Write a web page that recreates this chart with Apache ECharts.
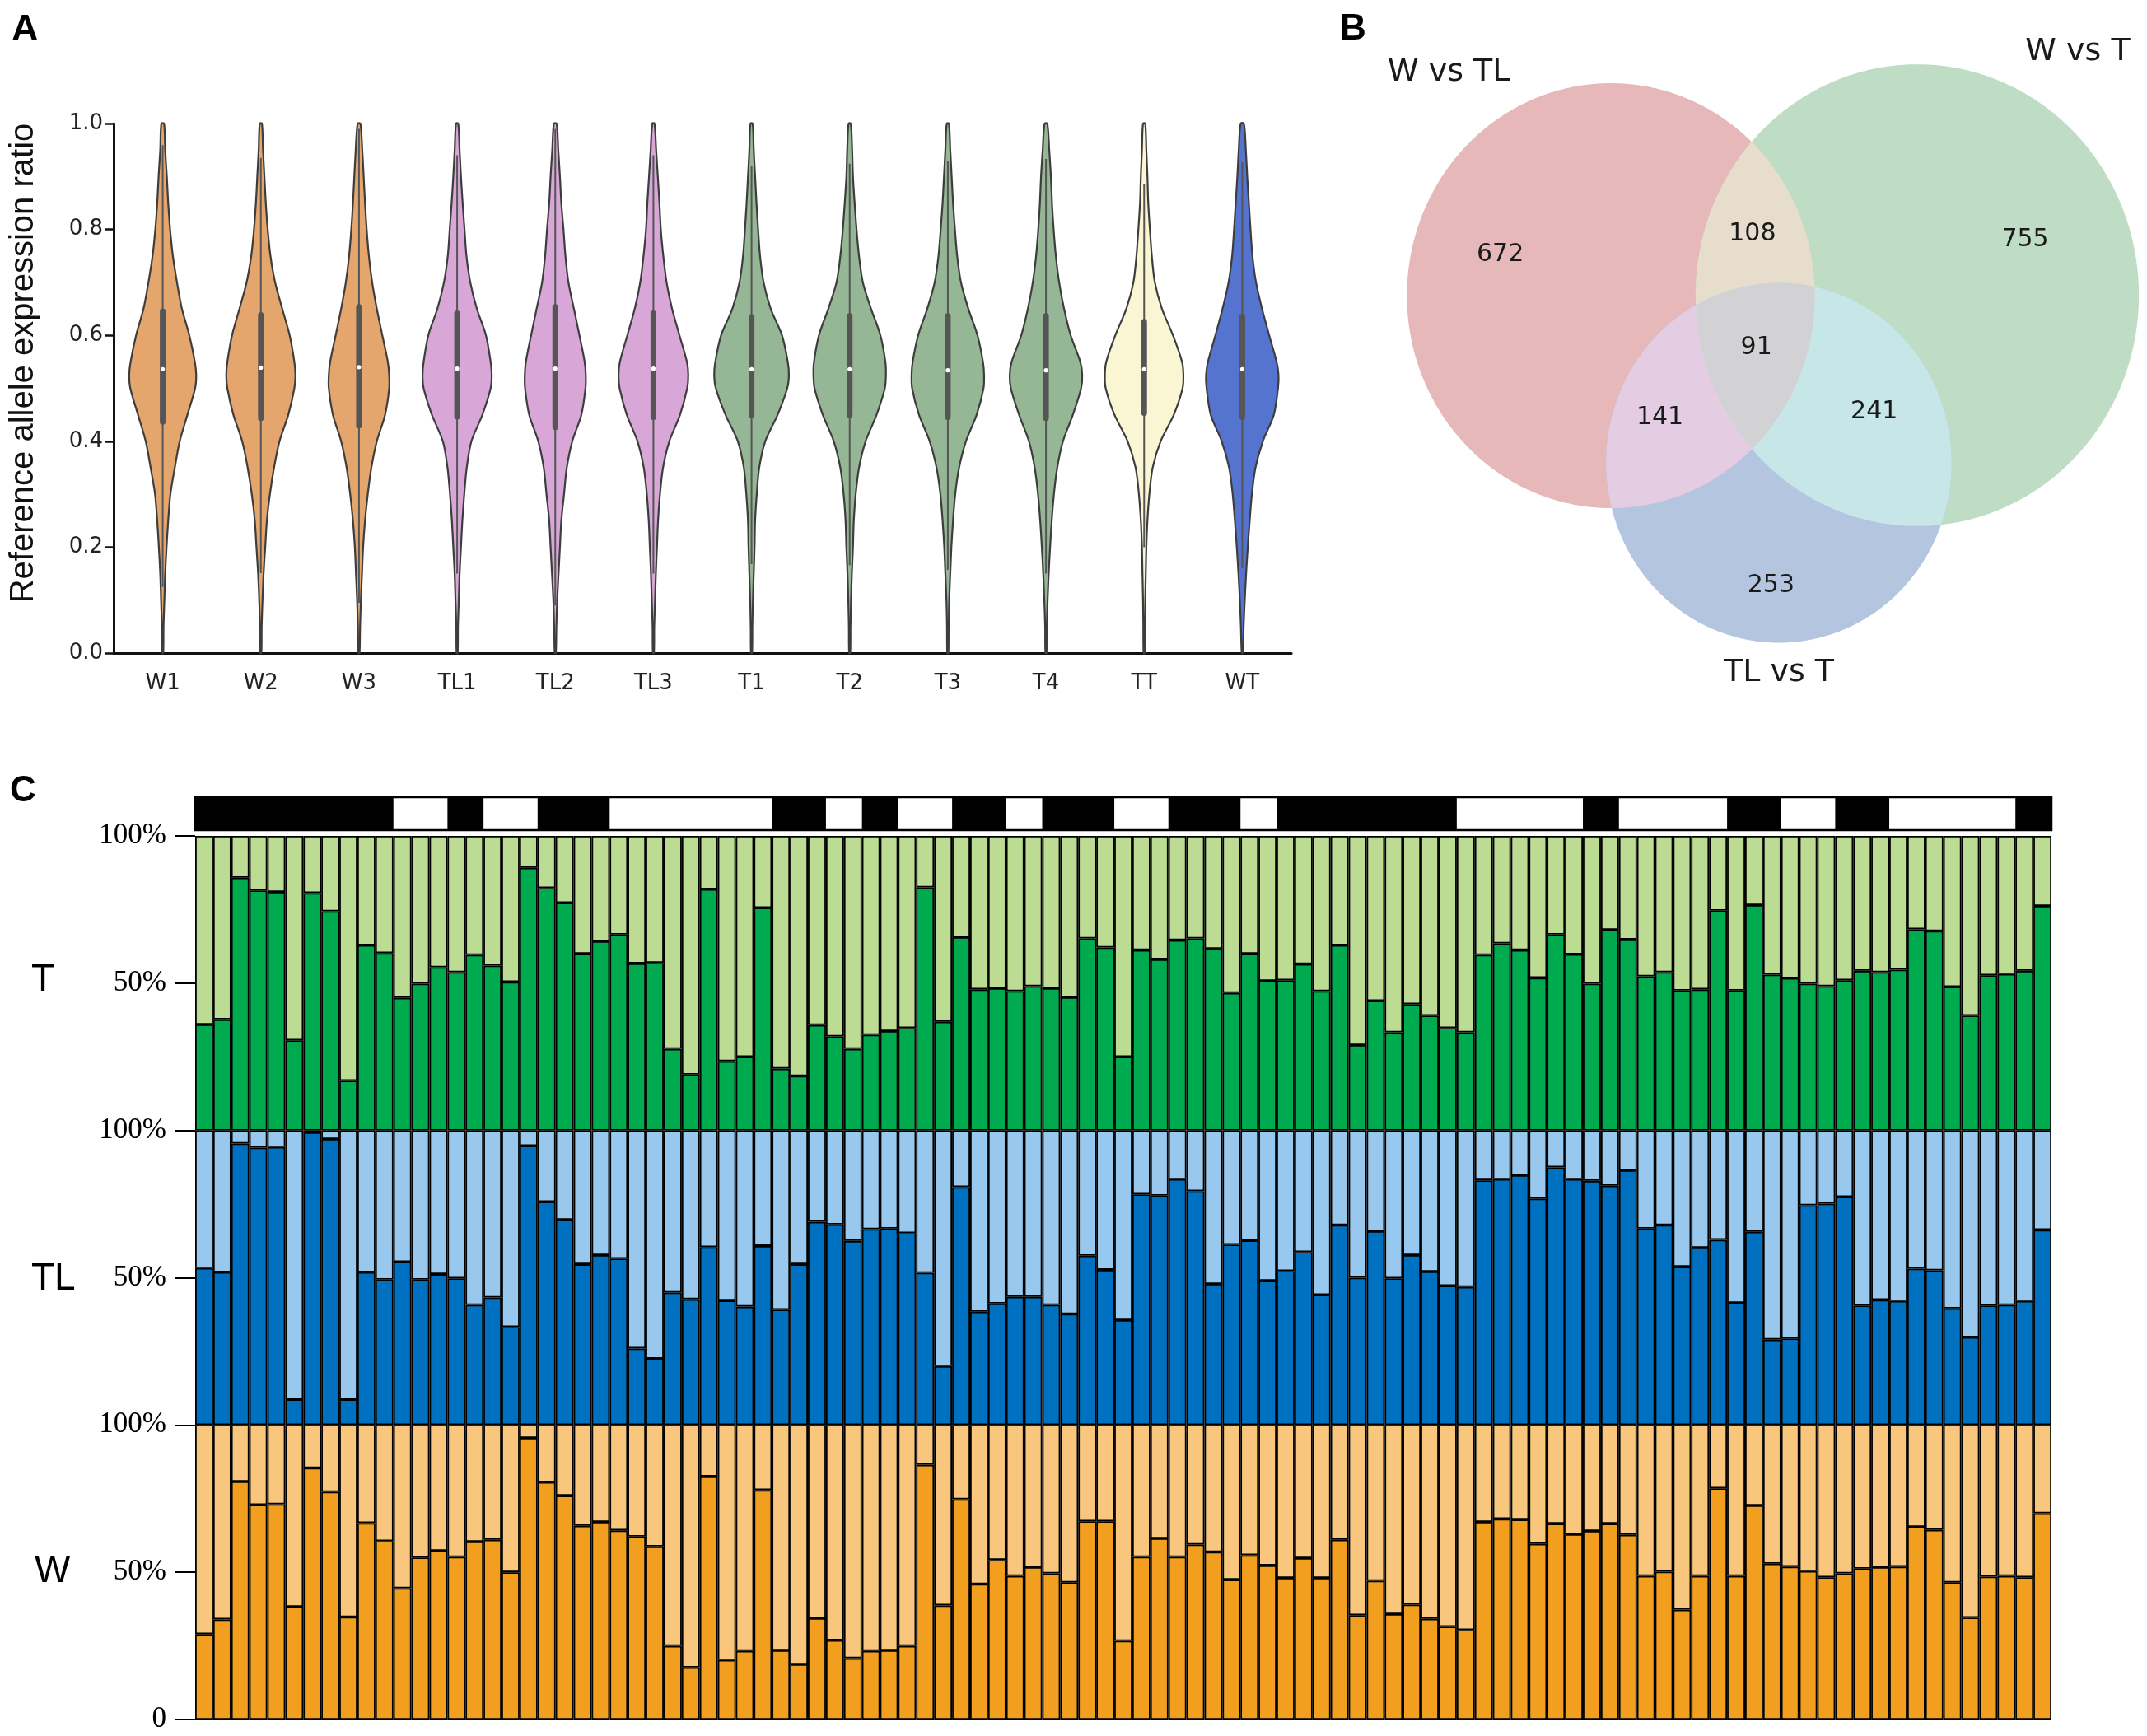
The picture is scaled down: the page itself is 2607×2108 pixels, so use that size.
<!DOCTYPE html>
<html><head><meta charset="utf-8">
<script src="https://cdn.jsdelivr.net/npm/echarts@6/dist/echarts.min.js"></script>
<style>html,body{margin:0;padding:0;background:#fff}#c{width:2607px;height:2108px}</style>
</head><body><div id="c"></div><script>
// ---------------- DATA ----------------
// Panel A: violins
const violinNames = ['W1','W2','W3','TL1','TL2','TL3','T1','T2','T3','T4','TT','WT'];
const violinLevels = [0,0.05,0.1,0.15,0.2,0.25,0.3,0.35,0.4,0.45,0.5,0.525,0.55,0.6,0.65,0.7,0.75,0.8,0.85,0.9,0.95,1];
const densW1  = [2,3,6,9,14,20,28,44,62,90,118,122,117,97,70,52,37,27,20,15,9,5];
const densW2  = [2,3,6,10,16,22,33,48,68,100,122,126,122,105,78,52,35,25,18,13,8,4];
const densW3  = [2,4,7,11,15,22,32,45,65,95,110,110,105,85,65,48,36,28,22,17,12,5];
const densTL1 = [2,3,6,9,14,19,26,35,52,92,122,126,122,105,72,48,34,27,20,14,9,4];
const densTL2 = [2,4,7,12,17,22,32,42,62,95,110,111,107,88,68,48,37,30,22,17,11,5];
const densTL3 = [2,3,6,9,13,17,24,35,58,97,123,127,122,95,68,48,36,27,22,16,10,4];
const densT1  = [2,3,5,8,11,13,19,28,50,95,130,136,132,111,70,44,31,24,18,13,8,4];
const densT2  = [2,3,5,8,12,15,22,34,58,98,128,132,130,112,78,48,34,25,18,12,9,4];
const densT3  = [2,3,5,9,13,19,27,41,66,105,130,132,128,108,75,48,34,26,19,14,9,4];
const densT4  = [2,3,6,10,15,21,29,41,62,98,128,132,125,90,66,48,36,28,22,18,12,5];
const densTT  = [2,3,4,6,8,12,19,31,60,108,140,143,138,105,65,39,28,21,15,12,8,4];
const densWT  = [2,5,9,14,20,27,35,48,75,115,130,132,125,98,72,50,37,30,24,18,13,6];
const violinDensities = [densW1,densW2,densW3,densTL1,densTL2,densTL3,densT1,densT2,densT3,densT4,densTT,densWT];
const violinQ1     = [0.431,0.438,0.424,0.441,0.421,0.440,0.444,0.444,0.440,0.438,0.448,0.440];
const violinMedian = [0.536,0.539,0.540,0.537,0.537,0.537,0.536,0.536,0.534,0.534,0.536,0.536];
const violinQ3     = [0.651,0.644,0.659,0.647,0.659,0.647,0.640,0.642,0.642,0.642,0.631,0.641];
const whiskerLow   = [0.125,0.151,0.095,0.150,0.090,0.150,0.168,0.166,0.157,0.150,0.200,0.160];
const whiskerHigh  = [0.959,0.935,0.990,0.940,0.990,0.940,0.920,0.924,0.929,0.933,0.885,0.927];
const yAxisTitleA = 'Reference allele expression ratio';

// Panel B: Venn
const vennSetNames = ['W vs TL','W vs T','TL vs T'];
const vennRegionKeys   = ['100','110','010','111','101','011','001'];
const vennRegionCounts = [672,108,755,91,141,241,253];

// Panel C: stacked proportions
const barGroups = ['T','TL','W'];
const valuesT = [0.36,0.377,0.858,0.815,0.81,0.306,0.806,0.744,0.169,0.629,0.602,0.45,0.498,0.554,0.5375,0.596,0.56,0.504,0.892,0.823,
  0.773,0.6,0.642,0.665,0.567,0.569,0.277,0.19,0.819,0.235,0.25,0.756,0.21,0.185,0.358,0.319,0.277,0.325,0.3375,0.348,
  0.825,0.369,0.656,0.479,0.483,0.473,0.49,0.483,0.452,0.652,0.621,0.25,0.6125,0.581,0.646,0.652,0.617,0.467,0.6,0.508,
  0.51,0.565,0.473,0.629,0.29,0.44,0.333,0.429,0.39,0.348,0.333,0.596,0.635,0.6125,0.518,0.665,0.598,0.498,0.681,0.648,
  0.523,0.5375,0.475,0.479,0.746,0.475,0.765,0.529,0.517,0.498,0.49,0.51,0.542,0.5375,0.546,0.683,0.677,0.4875,0.39,0.527,
  0.531,0.542,0.7625];
const valuesTL = [0.533,0.519,0.956,0.942,0.944,0.0875,0.994,0.971,0.0875,0.519,0.494,0.554,0.494,0.5125,0.498,0.408,0.433,0.333,0.948,0.758,
  0.697,0.546,0.577,0.565,0.26,0.225,0.45,0.427,0.604,0.423,0.402,0.608,0.392,0.546,0.69,0.681,0.625,0.665,0.667,0.652,
  0.517,0.2,0.808,0.385,0.4125,0.435,0.435,0.408,0.377,0.575,0.527,0.356,0.783,0.779,0.835,0.794,0.479,0.6125,0.627,0.49,
  0.523,0.5875,0.442,0.679,0.5,0.658,0.498,0.577,0.521,0.473,0.469,0.831,0.835,0.848,0.769,0.875,0.835,0.829,0.8125,0.865,
  0.667,0.679,0.5375,0.602,0.629,0.415,0.656,0.29,0.294,0.746,0.752,0.775,0.406,0.425,0.421,0.531,0.525,0.396,0.298,0.406,
  0.408,0.421,0.6625];
const valuesW = [0.29,0.34,0.808,0.729,0.731,0.383,0.854,0.773,0.348,0.667,0.606,0.446,0.55,0.573,0.552,0.604,0.61,0.5,0.956,0.806,
  0.76,0.658,0.671,0.642,0.621,0.5875,0.25,0.177,0.825,0.202,0.233,0.779,0.235,0.1875,0.344,0.269,0.208,0.233,0.235,0.25,
  0.865,0.3875,0.748,0.46,0.542,0.4875,0.517,0.496,0.465,0.673,0.673,0.267,0.552,0.615,0.552,0.594,0.569,0.475,0.558,0.523,
  0.481,0.548,0.481,0.61,0.354,0.471,0.358,0.39,0.342,0.315,0.304,0.671,0.681,0.679,0.596,0.665,0.629,0.64,0.665,0.627,
  0.4875,0.502,0.373,0.4875,0.785,0.4875,0.727,0.529,0.519,0.504,0.483,0.496,0.5125,0.517,0.519,0.654,0.644,0.465,0.346,0.485,
  0.4875,0.483,0.7];
// top track: run lengths (in bars), alternating black / white, starting with black
const trackRuns = [11,3,2,3,4,9,3,2,2,3,3,2,4,3,4,2,10,7,2,6,3,3,3,7,2];

// ---------------- STYLE / LAYOUT ----------------
const violinFill = ['#E5A66E','#E5A66E','#E5A66E','#D8A7D8','#D8A7D8','#D8A7D8','#95B795','#95B795','#95B795','#95B795','#FAF6D3','#5574D0'];
const violinEdge = '#3d3d3d';
const boxColor = '#555555';
const darkColors  = {T:'#00AA4E', TL:'#0070C0', W:'#F29E1F'};
const lightColors = {T:'#BCDC93', TL:'#98C8EE', W:'#F8C77D'};
const VENN = {
  xScale: 0.96, left: 1620, top: 0, width: 987, height: 860,
  centers: [[350,359],[737.5,358.5],[562.5,562]],
  k: 8.11,
  fills: {A:'#E6B8BA', B:'#BEDDC4', C:'#B4C6DF', AB:'#E6DDCC', AC:'#E4CCE2', BC:'#C6E6E8', ABC:'#D2D2D5'},
  setLabelPos: [[145,88],[940.6,63],[562.5,817]],
  countPos: [[210,309],[529,284],[874,291],[534,422],[412,507],[683,500],[552.5,711.5]]
};
const C_LEFT = 237, C_WIDTH = 2254;
const C_TOPS = [1015, 1372.7, 1730.3], C_H = 357.7;
const TICK_FONT_A = '"DejaVu Sans"';

const chart = echarts.init(document.getElementById('c'), null, {renderer:'canvas', devicePixelRatio:1});

// ---------- renderers ----------
function renderViolin(params, api) {
  const i = api.value(0);
  const cx = api.coord([i, 0])[0];
  const band = api.size([1, 0])[0];
  const k = band / 357.5;
  const d = violinDensities[i];
  const pts = [];
  for (let j = 0; j < violinLevels.length; j++) {
    pts.push([cx + d[j]*k, api.coord([i, violinLevels[j]])[1]]);
  }
  for (let j = violinLevels.length - 1; j >= 0; j--) {
    pts.push([cx - d[j]*k, api.coord([i, violinLevels[j]])[1]]);
  }
  const yq1 = api.coord([i, violinQ1[i]])[1], yq3 = api.coord([i, violinQ3[i]])[1];
  const ym = api.coord([i, violinMedian[i]])[1];
  const ywl = api.coord([i, whiskerLow[i]])[1], ywh = api.coord([i, whiskerHigh[i]])[1];
  return {type:'group', children:[
    {type:'polygon', shape:{points:pts, smooth:0.3}, style:{fill:violinFill[i], stroke:violinEdge, lineWidth:2.2}},
    {type:'line', shape:{x1:cx, y1:ywl, x2:cx, y2:ywh}, style:{stroke:boxColor, lineWidth:2}},
    {type:'rect', shape:{x:cx-3.5, y:yq3, width:7, height:yq1-yq3, r:3.5}, style:{fill:boxColor}},
    {type:'circle', shape:{cx:cx, cy:ym, r:2.6}, style:{fill:'#ffffff'}}
  ]};
}

function renderVenn(params, api) {
  const sizes = [0,1,2].map(s => vennRegionKeys.reduce((acc, key, idx) => acc + (key[s] === '1' ? vennRegionCounts[idx] : 0), 0));
  const circles = sizes.map((n, s) => ({c: VENN.centers[s], r: VENN.k * Math.sqrt(n)}));
  const N = 1440;
  const samp = circles.map(ci => {
    const arr = [];
    for (let t = 0; t < N; t++) { const a = 2*Math.PI*t/N; arr.push([ci.c[0] + ci.r*Math.cos(a), ci.c[1] + ci.r*Math.sin(a)]); }
    return arr;
  });
  const inside = (p, ci) => (p[0]-ci.c[0])**2 + (p[1]-ci.c[1])**2 <= ci.r*ci.r*(1+1e-9);
  function region(idxs) {
    const pts = [];
    idxs.forEach(s => samp[s].forEach(p => { if (idxs.every(o => o === s || inside(p, circles[o]))) pts.push(p); }));
    let cx = 0, cy = 0; pts.forEach(p => { cx += p[0]; cy += p[1]; }); cx /= pts.length; cy /= pts.length;
    pts.sort((a, b) => Math.atan2(a[1]-cy, a[0]-cx) - Math.atan2(b[1]-cy, b[0]-cx));
    return pts.map(p => api.coord(p));
  }
  const poly = (idxs, fill) => ({type:'polygon', shape:{points: region(idxs)}, style:{fill: fill}});
  const children = [
    poly([0], VENN.fills.A), poly([1], VENN.fills.B), poly([2], VENN.fills.C),
    poly([0,1], VENN.fills.AB), poly([0,2], VENN.fills.AC), poly([1,2], VENN.fills.BC),
    poly([0,1,2], VENN.fills.ABC)
  ];
  vennSetNames.forEach((name, s) => {
    const p = api.coord(VENN.setLabelPos[s]);
    children.push({type:'text', x:p[0], y:p[1], style:{text:name, fill:'#1a1a1a', font:'38px "DejaVu Sans"', align:'center', verticalAlign:'middle', textAlign:'center', textVerticalAlign:'middle'}});
  });
  vennRegionCounts.forEach((n, idx) => {
    const p = api.coord(VENN.countPos[idx]);
    children.push({type:'text', x:p[0], y:p[1], style:{text:String(n), fill:'#1a1a1a', font:'30px "DejaVu Sans"', align:'center', verticalAlign:'middle', textAlign:'center', textVerticalAlign:'middle'}});
  });
  return {type:'group', children};
}

const trackSegs = [];
(function(){ let s = 0; trackRuns.forEach((len, i) => { if (i % 2 === 0) trackSegs.push([s, s + len]); s += len; }); })();
function renderTrack(params, api) {
  const p0 = api.coord([api.value(0), 1]);
  const p1 = api.coord([api.value(1), 0]);
  return {type:'rect', shape:{x:p0[0], y:p0[1], width:p1[0]-p0[0], height:p1[1]-p0[1]}, style:{fill:'#000'}};
}

// ---------- options ----------
const barIds = valuesT.map((_, i) => String(i + 1));
const grids = [
  {left:138, top:150, width:1430, height:643},
  {left:VENN.left, top:VENN.top, width:VENN.width, height:VENN.height},
  {left:C_LEFT, top:968, width:C_WIDTH, height:40, show:true, borderColor:'#000', borderWidth:2.5, backgroundColor:'#fff'},
  {left:C_LEFT, top:C_TOPS[0], width:C_WIDTH, height:C_H},
  {left:C_LEFT, top:C_TOPS[1], width:C_WIDTH, height:C_H},
  {left:C_LEFT, top:C_TOPS[2], width:C_WIDTH, height:C_H}
];
const xAxes = [
  {gridIndex:0, type:'category', data:violinNames,
   axisLine:{lineStyle:{color:'#111', width:3.2}}, axisTick:{alignWithLabel:true, length:16, lineStyle:{color:'#111', width:2.5}},
   axisLabel:{fontFamily:TICK_FONT_A, fontSize:26, color:'#222', margin:24}},
  {gridIndex:1, type:'value', min:0, max:VENN.width/VENN.xScale, show:false},
  {gridIndex:2, type:'value', min:0, max:valuesT.length, show:false}
];
const yAxes = [
  {gridIndex:0, type:'value', min:0, max:1, interval:0.2,
   axisLine:{show:true, lineStyle:{color:'#111', width:3}}, axisTick:{show:true, length:11, lineStyle:{color:'#111', width:2.5}},
   axisLabel:{fontFamily:TICK_FONT_A, fontSize:26, color:'#222', margin:13, formatter: v => v.toFixed(1)},
   splitLine:{show:false}},
  {gridIndex:1, type:'value', min:0, max:VENN.height, inverse:true, show:false},
  {gridIndex:2, type:'value', min:0, max:1, show:false}
];
const series = [
  {type:'custom', xAxisIndex:0, yAxisIndex:0, data: violinNames.map((_, i) => [i, 0.5]), encode:{x:0, y:1}, renderItem: renderViolin, z:3},
  {type:'custom', xAxisIndex:1, yAxisIndex:1, data: [[0, 0]], renderItem: renderVenn},
  {type:'custom', xAxisIndex:2, yAxisIndex:2, data: trackSegs, encode:{x:[0,1]}, renderItem: renderTrack}
];
const groupValues = {T: valuesT, TL: valuesTL, W: valuesW};
barGroups.forEach((g, gi) => {
  const gIdx = 3 + gi;
  xAxes.push({gridIndex:gIdx, type:'category', data:barIds, axisLine:{show:false}, axisTick:{show:false}, axisLabel:{show:false}});
  yAxes.push({gridIndex:gIdx, type:'value', min:0, max:1, interval:0.5,
    axisLine:{show:false}, splitLine:{show:false},
    axisTick:{show:true, length:24, lineStyle:{color:'#000', width:2}},
    axisLabel:{margin:35, fontFamily:'Liberation Serif', fontSize:35, color:'#000',
      formatter: v => v === 1 ? '100%' : (v === 0.5 ? '50%' : (g === 'W' ? '0' : ''))}});
  const vals = groupValues[g];
  series.push({type:'bar', xAxisIndex:xAxes.length-1, yAxisIndex:yAxes.length-1, stack:g, data:vals,
    barCategoryGap:'0%', itemStyle:{color:darkColors[g], borderColor:'#000', borderWidth:1.8}});
  series.push({type:'bar', xAxisIndex:xAxes.length-1, yAxisIndex:yAxes.length-1, stack:g, data:vals.map(v => +(1 - v).toFixed(4)),
    barCategoryGap:'0%', itemStyle:{color:lightColors[g], borderColor:'#000', borderWidth:1.8}});
});

const labelStyle = (t, x, y, font) => ({type:'text', x:x, y:y, style:{text:t, font:font, fill:'#000', verticalAlign:'middle', textVerticalAlign:'middle'}});
chart.setOption({
  animation:false,
  backgroundColor:'#fff',
  grid: grids, xAxis: xAxes, yAxis: yAxes, series: series,
  graphic: [
    labelStyle('A', 14, 37, 'bold 45px "Liberation Sans"'),
    labelStyle('B', 1627, 36, 'bold 44px "Liberation Sans"'),
    labelStyle('C', 12, 961, 'bold 44px "Liberation Sans"'),
    labelStyle('T', 38, 1190, '46px "Liberation Sans"'),
    labelStyle('TL', 38, 1553, '46px "Liberation Sans"'),
    labelStyle('W', 42, 1908, '46px "Liberation Sans"'),
    {type:'text', x:29, y:441, rotation:Math.PI/2,
     style:{text:yAxisTitleA, font:'40px "Liberation Sans"', fill:'#111', align:'center', verticalAlign:'middle', textAlign:'center', textVerticalAlign:'middle'}}
  ]
});
</script></body></html>
